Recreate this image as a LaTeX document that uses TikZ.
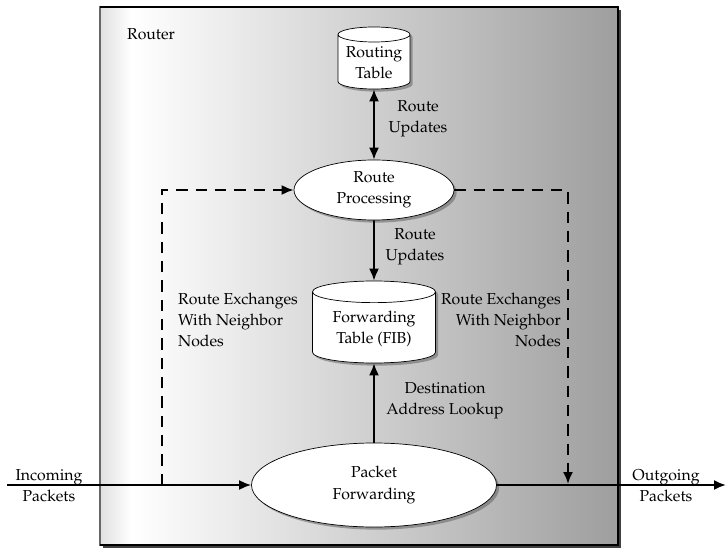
\documentclass[tikz,border=0pt]{standalone}
\usepackage[T1]{fontenc}
\usepackage{mathpazo}
\usetikzlibrary{shapes.geometric,shadows,arrows.meta}
\pgfdeclarehorizontalshading{routershade}{100bp}{color(0bp)=(black!12); color(25bp)=(black!12); color(28bp)=(white); color(75bp)=(black!38); color(100bp)=(black!38)}
\begin{document}
\begin{tikzpicture}[x=0.2mm,y=-0.2mm,
    font=\fontsize{9}{12}\selectfont,
    >={Latex[length=2.4mm,width=2mm]},
    flow/.style={line width=1.1pt},
    exch/.style={flow,dash pattern=on 6.5pt off 4.5pt},
    shade box/.style={drop shadow={shadow xshift=1.5pt,shadow yshift=-1.5pt,fill=black!65}},
    store/.style={cylinder,shape border rotate=90,draw,fill=white,shape aspect=0.25,inner sep=1pt,align=center,anchor=shape center,shade box},
    proc/.style={ellipse,draw,fill=white,inner sep=0pt,align=center,shade box}]
      \useasboundingbox (0,0) rectangle (727,548);

      % router frame
      \fill [black!75] (103,10) rectangle (621,548);
      \shade [shading=routershade,draw=black!60,line width=0.8pt] (100,7) rectangle (618,545);
      \draw [black,line width=0.8pt] (100,545) -- (618,545) -- (618,7) -- (100,7);
      \node (router) [right] at (121,34) {Router};

      \node (rt) [store,minimum width=14.4mm,minimum height=12.4mm] at (374,58) {Routing\\Table};
      \node (rp) [proc,minimum width=32mm,minimum height=12mm] at (374,190) {Route\\Processing};
      \node (fib) [store,minimum width=24.6mm,minimum height=16.4mm] at (374,322) {Forwarding\\Table (FIB)};
      \node (pf) [proc,minimum width=49mm,minimum height=16.8mm] at (374,485) {Packet\\Forwarding};

      \node (upd1) [align=center] at (418,119) {Route\\Updates};
      \node (upd2) [align=center] at (415,247) {Route\\Updates};
      \node (exl) [right,align=left] at (172,320) {Route Exchanges\\With Neighbor\\Nodes};
      \node (exr) [left,align=right] at (567,320) {Route Exchanges\\With Neighbor\\Nodes};
      \node (dal) [align=center] at (445,401) {Destination\\Address Lookup};
      \node (inl) [align=center] at (49,486) {Incoming\\Packets};
      \node (outl) [align=center] at (666,486) {Outgoing\\Packets};

      \coordinate (in) at (7,485);
      \coordinate (out) at (726,485);
      \coordinate (lx) at (162,485);
      \coordinate (rx) at (568,484);

      \draw [flow,<->] (rt.south) -- (rp.north);
      \draw [flow,->] (rp) -- (fib);
      \draw [flow,->] (pf) -- (fib);
      \draw [flow,->] (in) -- (pf);
      \draw [flow,->] (pf) -- (out);
      \draw [exch,->] (lx) |- (rp);
      \draw [exch,->] (rp) -| (rx);
    \end{tikzpicture}
\end{document}
